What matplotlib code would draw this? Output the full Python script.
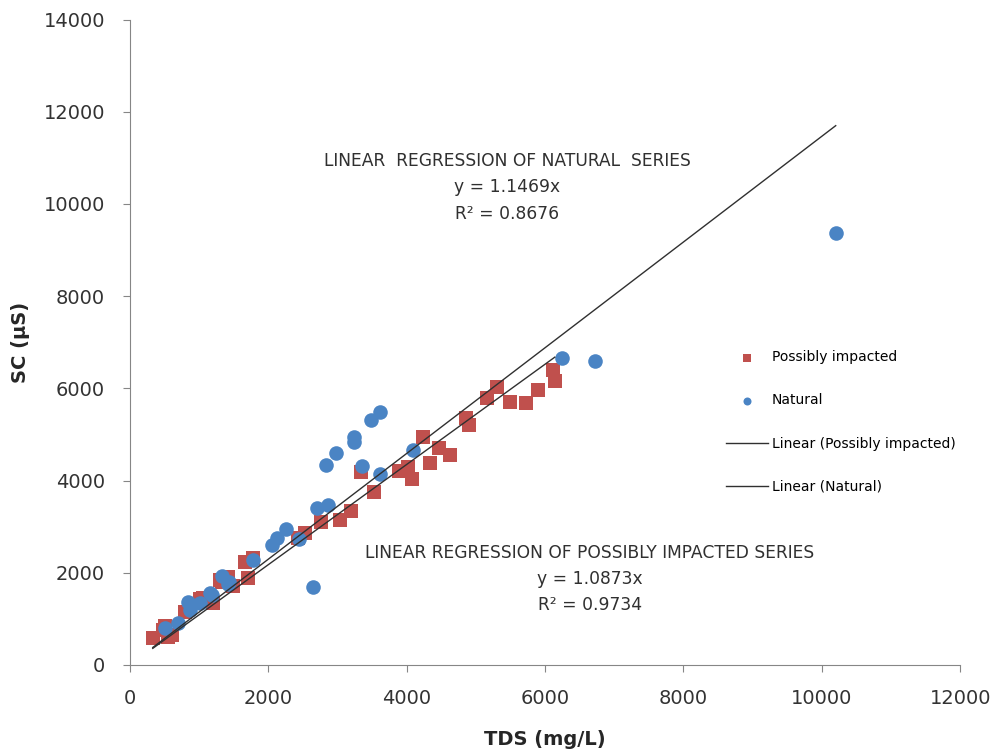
import matplotlib.pyplot as plt
import numpy as np

# Possibly impacted series (TDS mg/L, SC uS)
impacted_tds = [330, 480, 550, 610, 500, 795, 870, 1010, 1060, 1200,
                1300, 1330, 1410, 1490, 1660, 1780, 1710, 2430, 2530, 2760,
                3040, 3200, 3340, 3520, 3890, 4020, 4070, 4240, 4340, 4470,
                4620, 4860, 4900, 5160, 5300, 5490, 5730, 5900, 6120, 6140]
impacted_sc = [580, 760, 615, 640, 850, 1140, 1250, 1420, 1450, 1350,
               1850, 1800, 1900, 1720, 2240, 2320, 1890, 2760, 2870, 3110,
               3150, 3330, 4180, 3760, 4200, 4300, 4040, 4950, 4370, 4710,
               4550, 5360, 5200, 5780, 6030, 5710, 5680, 5960, 6400, 6150]

# Natural series
natural_tds = [500, 700, 840, 870, 1010, 1160, 1180, 1330, 1420, 1430,
               1780, 2060, 2120, 2250, 2450, 2640, 2700, 2860, 2830, 2980,
               3240, 3240, 3360, 3480, 3610, 3610, 4090, 6240, 6720, 10200]
natural_sc = [800, 910, 1360, 1200, 1340, 1560, 1520, 1930, 1760, 1790,
              2280, 2610, 2750, 2940, 2730, 1680, 3400, 3470, 4330, 4590,
              4950, 4830, 4310, 5310, 5490, 4150, 4660, 6650, 6600, 9380]

# trendline slopes (intercept set to 0)
slope_impacted = 1.0873
slope_natural = 1.1469
r2_impacted = 0.9734
r2_natural = 0.8676

red = "#C0504D"
blue = "#4A84C4"

fig = plt.figure(
    figsize=(9.92, 7.53),
    dpi=100
)

ax = fig.add_axes([0.131, 0.117, 0.837, 0.857])

ax.scatter(
    impacted_tds,
    impacted_sc,
    marker="s",
    s=100,
    color=red,
    linewidths=0,
    label="Possibly impacted",
    zorder=3
)

ax.scatter(
    natural_tds,
    natural_sc,
    marker="o",
    s=110,
    color=blue,
    linewidths=0,
    label="Natural",
    zorder=4
)

x_start = min(min(impacted_tds), min(natural_tds))

xi = np.array([x_start, max(impacted_tds)])
xn = np.array([x_start, max(natural_tds)])

ax.plot(
    xi,
    slope_impacted * xi,
    color="#303030",
    linewidth=1.0,
    label="Linear (Possibly impacted)",
    zorder=5
)

ax.plot(
    xn,
    slope_natural * xn,
    color="#303030",
    linewidth=1.0,
    label="Linear (Natural)",
    zorder=5
)

ax.set_xlim(0, 12000)
ax.set_ylim(0, 14000)
ax.set_xticks(range(0, 12001, 2000))
ax.set_yticks(range(0, 14001, 2000))

for side in ["top", "right"]:
    ax.spines[side].set_visible(False)
for side in ["left", "bottom"]:
    ax.spines[side].set_color("#868686")

ax.tick_params(
    direction="out",
    length=5,
    color="#868686",
    labelsize=14,
    labelcolor="#333333"
)
ax.tick_params(axis="x", pad=12)
ax.tick_params(axis="y", pad=13)

ax.set_xlabel(
    "TDS (mg/L)",
    fontsize=14,
    fontweight="bold",
    color="#262626",
    labelpad=16
)
ax.set_ylabel(
    "SC (µS)",
    fontsize=14,
    fontweight="bold",
    color="#262626",
    labelpad=10
)

ax.text(
    5450, 11130,
    "LINEAR  REGRESSION OF NATURAL  SERIES\ny = %.4fx\nR² = %.4f" % (slope_natural, r2_natural),
    ha="center",
    va="top",
    fontsize=12.3,
    linespacing=1.6,
    color="#303030"
)

ax.text(
    6650, 2630,
    "LINEAR REGRESSION OF POSSIBLY IMPACTED SERIES\ny = %.4fx\nR² = %.4f" % (slope_impacted, r2_impacted),
    ha="center",
    va="top",
    fontsize=12.3,
    linespacing=1.6,
    color="#303030"
)

ax.legend(
    loc="upper left",
    bbox_to_anchor=(0.703, 0.507),
    frameon=False,
    fontsize=10,
    labelspacing=2.1,
    handlelength=3.0,
    handletextpad=0.3,
    markerscale=0.55
)

plt.savefig(
    "out.png"
)

plt.close()
